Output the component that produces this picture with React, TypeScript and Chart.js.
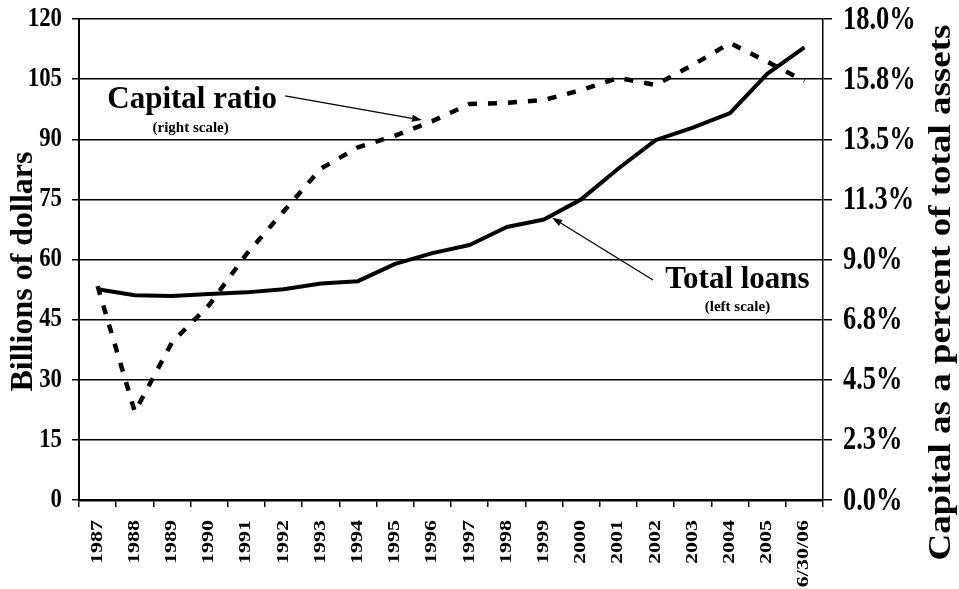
import React, { useEffect, useRef } from 'react';
import { Chart, registerables } from 'chart.js';

Chart.register(...registerables);

const categories = ['1987', '1988', '1989', '1990', '1991', '1992', '1993', '1994', '1995', '1996', '1997', '1998', '1999', '2000', '2001', '2002', '2003', '2004', '2005', '6/30/06'];
const totalLoans = [52.6, 51.1, 50.9, 51.4, 51.8, 52.6, 54.0, 54.6, 58.9, 61.6, 63.6, 68.1, 70.0, 75.0, 82.7, 89.8, 92.9, 96.5, 106.3, 112.9];
const capitalRatio = [8.0, 3.3, 5.9, 7.3, 9.2, 10.8, 12.4, 13.2, 13.64, 14.18, 14.82, 14.86, 14.97, 15.34, 15.8, 15.53, 16.28, 17.1, 16.4, 15.68];
const leftTicks = [0, 15, 30, 45, 60, 75, 90, 105, 120];
const rightTickLabels = ['0.0%', '2.3%', '4.5%', '6.8%', '9.0%', '11.3%', '13.5%', '15.8%', '18.0%'];

const SERIF = '"Liberation Serif", "Times New Roman", serif';

function drawArrow(ctx: CanvasRenderingContext2D, x0: number, y0: number, x1: number, y1: number) {
  const ang = Math.atan2(y1 - y0, x1 - x0);
  const len = 10;
  const w = 3.5;
  const bx = x1 - len * Math.cos(ang);
  const by = y1 - len * Math.sin(ang);
  ctx.beginPath();
  ctx.moveTo(x0, y0);
  ctx.lineTo(bx, by);
  ctx.lineWidth = 1.3;
  ctx.strokeStyle = '#000';
  ctx.stroke();
  ctx.beginPath();
  ctx.moveTo(x1, y1);
  ctx.lineTo(bx + w * Math.sin(ang), by - w * Math.cos(ang));
  ctx.lineTo(bx - w * Math.sin(ang), by + w * Math.cos(ang));
  ctx.closePath();
  ctx.fillStyle = '#000';
  ctx.fill();
}

const annotationPlugin = {
  id: 'annotations',
  afterDraw(chart: any) {
    const ctx: CanvasRenderingContext2D = chart.ctx;
    const xs = chart.scales.x;
    const ys = chart.scales.y;
    const y1s = chart.scales.y1;
    const area = chart.chartArea;
    const px = (i: number) => xs.getPixelForValue(i);
    ctx.save();
    ctx.fillStyle = '#000';

    // left tick labels (condensed serif)
    ctx.font = `bold 26.5px ${SERIF}`;
    ctx.textAlign = 'right';
    ctx.textBaseline = 'middle';
    leftTicks.forEach((v) => {
      ctx.save();
      ctx.translate(area.left - 17, ys.getPixelForValue(v));
      ctx.scale(0.86, 1);
      ctx.fillText(String(v), 0, 0);
      ctx.restore();
    });

    // right tick labels
    ctx.font = `bold 33px ${SERIF}`;
    ctx.textAlign = 'left';
    const step = 18 / (rightTickLabels.length - 1);
    rightTickLabels.forEach((t, i) => {
      ctx.save();
      ctx.translate(area.right + 20, y1s.getPixelForValue(step * i) + 1);
      ctx.scale(0.8, 1);
      ctx.fillText(t, 0, 0);
      ctx.restore();
    });

    // x tick labels, rotated
    ctx.font = `bold 22px ${SERIF}`;
    ctx.textAlign = 'right';
    ctx.textBaseline = 'middle';
    categories.forEach((c, i) => {
      ctx.save();
      ctx.translate(px(i), area.bottom + 20);
      ctx.rotate(-Math.PI / 2);
      ctx.scale(1, 0.72);
      ctx.fillText(c, 0, 0);
      ctx.restore();
    });

    ctx.textAlign = 'center';
    ctx.textBaseline = 'alphabetic';

    // Capital ratio label
    ctx.font = `bold 31px ${SERIF}`;
    ctx.fillText('Capital ratio', px(2.54), ys.getPixelForValue(97.8));
    ctx.font = `bold 15px ${SERIF}`;
    ctx.textBaseline = 'middle';
    ctx.fillText('(right scale)', px(2.5), ys.getPixelForValue(92.8));

    // Total loans label
    ctx.textBaseline = 'alphabetic';
    ctx.font = `bold 31px ${SERIF}`;
    ctx.fillText('Total loans', px(17.2), ys.getPixelForValue(52.9));
    ctx.font = `bold 15px ${SERIF}`;
    ctx.textBaseline = 'middle';
    ctx.fillText('(left scale)', px(17.2), ys.getPixelForValue(48.2));

    // arrows
    drawArrow(ctx, px(5.04), ys.getPixelForValue(100.8), px(8.72), y1s.getPixelForValue(14.22));
    drawArrow(ctx, px(14.93), ys.getPixelForValue(54.9), px(12.22), ys.getPixelForValue(70.4));

    // axis titles (both read bottom-to-top)
    const midY = (area.top + area.bottom) / 2;
    ctx.textBaseline = 'middle';
    ctx.font = `bold 32px ${SERIF}`;
    ctx.save();
    ctx.translate(24, midY + 12);
    ctx.rotate(-Math.PI / 2);
    ctx.fillText('Billions of dollars', 0, 0);
    ctx.restore();
    ctx.save();
    ctx.font = `bold 37px ${SERIF}`;
    ctx.translate(942, midY + 33);
    ctx.rotate(-Math.PI / 2);
    ctx.scale(1, 0.85);
    ctx.fillText('Capital as a percent of total assets', 0, 0);
    ctx.restore();
    ctx.restore();
  },
};

export default function App() {
  const ref = useRef<HTMLCanvasElement | null>(null);
  useEffect(() => {
    if (!ref.current) return;
    const chart = new Chart(ref.current, {
      type: 'line',
      data: {
        labels: categories,
        datasets: [
          {
            label: 'Total loans',
            data: totalLoans,
            yAxisID: 'y',
            borderColor: '#000',
            borderWidth: 4,
            pointRadius: 0,
            tension: 0,
            fill: false,
            borderJoinStyle: 'round',
          },
          {
            label: 'Capital ratio',
            data: capitalRatio,
            yAxisID: 'y1',
            borderColor: '#000',
            borderWidth: 4.5,
            borderDash: [9, 11],
            borderCapStyle: 'butt',
            pointRadius: 0,
            tension: 0,
            fill: false,
          },
        ],
      },
      options: {
        responsive: false,
        animation: false,
        devicePixelRatio: 1,
        layout: { padding: { top: 19, left: 0, right: 0, bottom: 0 } },
        plugins: {
          legend: { display: false },
          tooltip: { enabled: false },
        },
        scales: {
          x: {
            type: 'category',
            offset: true,
            grid: {
              offset: true,
              drawOnChartArea: false,
              drawTicks: true,
              tickLength: 7,
              color: '#000',
              lineWidth: 1.5,
            },
            border: { display: true, color: '#000', width: 2.5 },
            ticks: { display: false, autoSkip: false },
            afterFit(scale: any) {
              scale.height = 89;
              scale.paddingLeft = 0;
              scale.paddingRight = 0;
            },
          },
          y: {
            type: 'linear',
            position: 'left',
            min: 0,
            max: 120,
            afterBuildTicks(scale: any) {
              scale.ticks = leftTicks.map((v) => ({ value: v }));
            },
            grid: {
              drawOnChartArea: true,
              drawTicks: true,
              tickLength: 7,
              color: '#000',
              lineWidth: 1.5,
            },
            border: { display: true, color: '#000', width: 2 },
            ticks: { display: false },
            afterFit(scale: any) {
              scale.width = 79;
              scale.paddingTop = 0;
              scale.paddingBottom = 0;
            },
          },
          y1: {
            type: 'linear',
            position: 'right',
            min: 0,
            max: 18,
            afterBuildTicks(scale: any) {
              scale.ticks = rightTickLabels.map((_, i) => ({ value: (18 / (rightTickLabels.length - 1)) * i }));
            },
            grid: {
              drawOnChartArea: false,
              drawTicks: true,
              tickLength: 9,
              color: '#000',
              lineWidth: 1.5,
            },
            border: { display: true, color: '#000', width: 1.5 },
            ticks: { display: false },
            afterFit(scale: any) {
              scale.width = 136;
              scale.paddingTop = 0;
              scale.paddingBottom = 0;
            },
          },
        },
      },
      plugins: [annotationPlugin],
    } as any);
    return () => chart.destroy();
  }, []);
  return (
    <div style={{ position: 'absolute', left: 0, top: 0, width: 959, height: 589, background: '#fff' }}>
      <canvas ref={ref} width={959} height={589} />
    </div>
  );
}
